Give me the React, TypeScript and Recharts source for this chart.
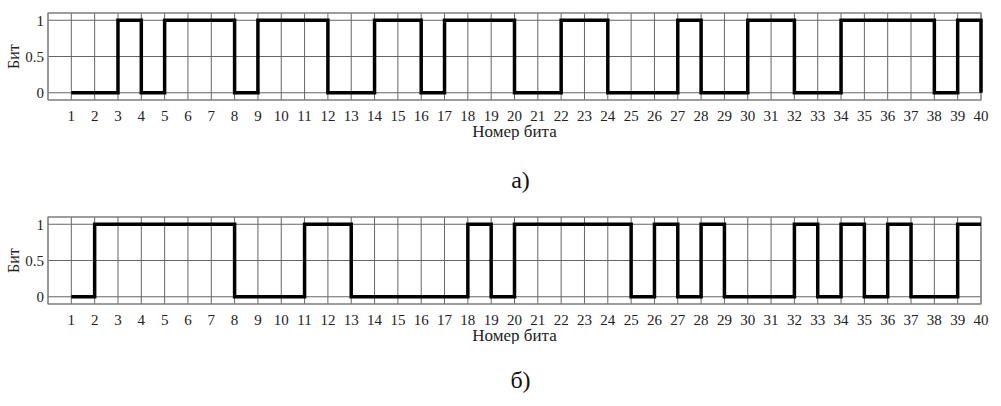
import { LineChart, Line, XAxis, YAxis, CartesianGrid, ReferenceArea, Label } from "recharts";

const bitNumbers = Array.from({ length: 40 }, (_, i) => i + 1);
const bitsA = [0, 0, 1, 0, 1, 1, 1, 0, 1, 1, 1, 0, 0, 1, 1, 0, 1, 1, 1, 0, 0, 1, 1, 0, 0, 0, 1, 0, 0, 1, 1, 0, 0, 1, 1, 1, 1, 0, 1, 0];
const bitsB = [0, 1, 1, 1, 1, 1, 1, 0, 0, 0, 1, 1, 0, 0, 0, 0, 0, 1, 0, 1, 1, 1, 1, 1, 0, 1, 0, 1, 0, 0, 0, 1, 0, 1, 0, 1, 0, 0, 1, 1];
const yTicks = [0, 0.5, 1];

const font = "Liberation Serif, DejaVu Serif, serif";

function BitChart({ bits }: { bits: number[] }) {
  const data = bitNumbers.map((n, i) => ({ n, bit: bits[i] }));
  return (
    <LineChart width={1001} height={140} data={data} margin={{ top: 13, right: 20, left: 0, bottom: 0 }} style={{ fontFamily: font }}>
      <CartesianGrid stroke="#666" strokeWidth={1} />
      <ReferenceArea x1={0} x2={40} y1={-0.1} y2={1.1} fill="none" stroke="#888" strokeWidth={1.2} />
      <XAxis
        dataKey="n"
        type="number"
        domain={[0, 40]}
        ticks={bitNumbers}
        interval={0}
        axisLine={false}
        tickLine={false}
        tickSize={0}
        tickMargin={10}
        height={40}
        tick={{ fill: "#222", fontSize: 15, fontFamily: font }}
      >
        <Label value="Номер бита" position="insideBottom" offset={3} fill="#222" fontSize={17} fontFamily={font} />
      </XAxis>
      <YAxis
        type="number"
        domain={[-0.1, 1.1]}
        ticks={yTicks}
        axisLine={false}
        tickLine={false}
        tickSize={0}
        tickMargin={4}
        width={48}
        tick={{ fill: "#222", fontSize: 15, fontFamily: font }}
      >
        <Label
          content={(p: any) => {
            const vb = p.viewBox || {};
            const cx = 13;
            const cy = (vb.y ?? 13) + (vb.height ?? 87) / 2;
            return (
              <text x={cx} y={cy} transform={`rotate(-90 ${cx} ${cy})`} textAnchor="middle" dominantBaseline="central" fill="#222" fontSize={16} fontFamily={font}>
                Бит
              </text>
            );
          }}
        />
      </YAxis>
      <Line
        type="stepAfter"
        dataKey="bit"
        stroke="#000"
        strokeWidth={3.5}
        strokeLinejoin="miter"
        strokeLinecap="butt"
        dot={false}
        isAnimationActive={false}
      />
    </LineChart>
  );
}

export default function App() {
  const caption = { position: "absolute" as const, left: 0, width: 1001, textAlign: "center" as const, fontFamily: font, fontSize: 24, color: "#111", paddingLeft: 40, boxSizing: "border-box" as const };
  return (
    <div style={{ position: "absolute", left: 0, top: 0, width: 1001, height: 406, background: "#fff" }}>
      <div style={{ position: "absolute", left: 0, top: 0 }}>
        <BitChart bits={bitsA} />
      </div>
      <div style={{ ...caption, top: 167 }}>а)</div>
      <div style={{ position: "absolute", left: 0, top: 204 }}>
        <BitChart bits={bitsB} />
      </div>
      <div style={{ ...caption, top: 367 }}>б)</div>
    </div>
  );
}
